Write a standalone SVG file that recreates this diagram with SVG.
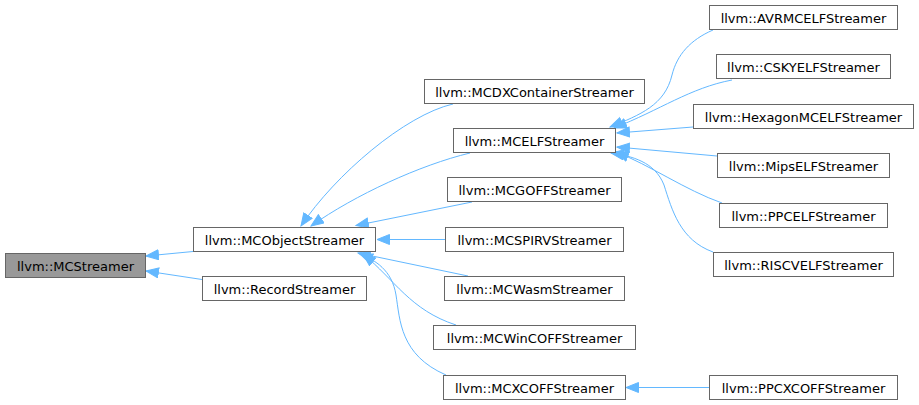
<svg xmlns="http://www.w3.org/2000/svg" width="919" height="405" viewBox="0 0 919 405">
<defs>
<marker id="ah" markerUnits="userSpaceOnUse" markerWidth="15" markerHeight="12" refX="13" refY="5.5" orient="auto">
<path d="M0.5,0.5 L13,5.5 L0.5,10.5 z" fill="#63b8ff" stroke="#63b8ff" stroke-width="1"/>
</marker>
</defs>
<style>
.n rect{fill:#ffffff;stroke:#666666;stroke-width:1}
.n.root rect{fill:#999999}
.n text{font-family:"DejaVu Sans",sans-serif;font-size:13px;fill:#000000;text-anchor:middle}
.e path{fill:none;stroke:#63b8ff;stroke-width:1;marker-end:url(#ah)}
</style>
<rect width="919" height="405" fill="#ffffff"/>
<g id="edges" class="e">
<path d="M193,251.5 L146,256"/>
<path d="M202,279.5 L146,271"/>
<path d="M453,104 C405,115 335,175 301,226"/>
<path d="M470,153 C420,165 355,195 311,226"/>
<path d="M472,202 L356,225.5"/>
<path d="M445,239.5 L377,239.5"/>
<path d="M468,276 L358,253"/>
<path d="M456,325 C410,310 395,280 363,254"/>
<path d="M446,375 C400,355 400,320 396,295 C392,270 375,260 360,254"/>
<path d="M713,30 C690,40 677,55 672,75 C665,105 640,115 610,127"/>
<path d="M732,80 C690,88 660,110 614,128"/>
<path d="M693,127 L617,133"/>
<path d="M717,156 L617,147"/>
<path d="M722,203 C685,190 650,165 616,152"/>
<path d="M713,252 C680,240 672,210 664,185 C655,162 632,156 611,153"/>
<path d="M709,387.5 L626,387.5"/>
</g>
<g id="MCStreamer" class="n root"><rect x="5.5" y="253.5" width="140" height="24"/><text x="75.5" y="270.5">llvm::MCStreamer</text></g>
<g id="MCObjectStreamer" class="n"><rect x="193.5" y="227.5" width="182" height="24"/><text x="284.5" y="244.5">llvm::MCObjectStreamer</text></g>
<g id="RecordStreamer" class="n"><rect x="202.5" y="276.5" width="164" height="24"/><text x="284.5" y="293.5">llvm::RecordStreamer</text></g>
<g id="MCDXContainerStreamer" class="n"><rect x="424.5" y="79.5" width="220" height="24"/><text x="534.5" y="96.5">llvm::MCDXContainerStreamer</text></g>
<g id="MCELFStreamer" class="n"><rect x="453.5" y="128.5" width="162" height="24"/><text x="534.5" y="145.5">llvm::MCELFStreamer</text></g>
<g id="MCGOFFStreamer" class="n"><rect x="447.5" y="177.5" width="174" height="24"/><text x="534.5" y="194.5">llvm::MCGOFFStreamer</text></g>
<g id="MCSPIRVStreamer" class="n"><rect x="445.5" y="227.5" width="178" height="24"/><text x="534.5" y="244.5">llvm::MCSPIRVStreamer</text></g>
<g id="MCWasmStreamer" class="n"><rect x="444.5" y="276.5" width="180" height="24"/><text x="534.5" y="293.5">llvm::MCWasmStreamer</text></g>
<g id="MCWinCOFFStreamer" class="n"><rect x="433.5" y="325.5" width="202" height="24"/><text x="534.5" y="342.5">llvm::MCWinCOFFStreamer</text></g>
<g id="MCXCOFFStreamer" class="n"><rect x="443.5" y="375.5" width="182" height="24"/><text x="534.5" y="392.5">llvm::MCXCOFFStreamer</text></g>
<g id="AVRMCELFStreamer" class="n"><rect x="709.5" y="5.5" width="188" height="24"/><text x="803.5" y="22.5">llvm::AVRMCELFStreamer</text></g>
<g id="CSKYELFStreamer" class="n"><rect x="716.5" y="54.5" width="174" height="24"/><text x="803.5" y="71.5">llvm::CSKYELFStreamer</text></g>
<g id="HexagonMCELFStreamer" class="n"><rect x="693.5" y="104.5" width="220" height="24"/><text x="803.5" y="121.5">llvm::HexagonMCELFStreamer</text></g>
<g id="MipsELFStreamer" class="n"><rect x="717.5" y="153.5" width="172" height="24"/><text x="803.5" y="170.5">llvm::MipsELFStreamer</text></g>
<g id="PPCELFStreamer" class="n"><rect x="719.5" y="203.5" width="168" height="24"/><text x="803.5" y="220.5">llvm::PPCELFStreamer</text></g>
<g id="RISCVELFStreamer" class="n"><rect x="713.5" y="252.5" width="180" height="24"/><text x="803.5" y="269.5">llvm::RISCVELFStreamer</text></g>
<g id="PPCXCOFFStreamer" class="n"><rect x="709.5" y="375.5" width="188" height="24"/><text x="803.5" y="392.5">llvm::PPCXCOFFStreamer</text></g>
</svg>
